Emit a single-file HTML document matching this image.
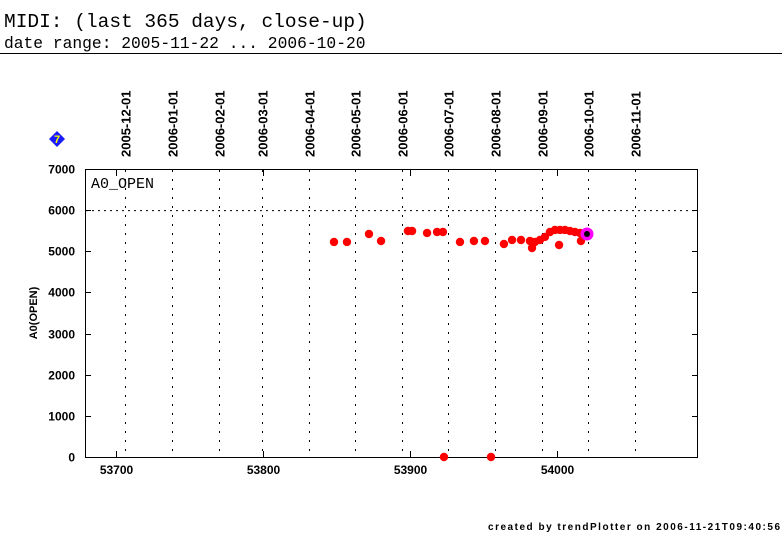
<!DOCTYPE html>
<html><head><meta charset="utf-8"><style>
body{margin:0;width:782px;height:542px;background:#fff;overflow:hidden}
svg{display:block}
</style></head><body>
<svg width="782" height="542" id="c">
<text x="4" y="27" font-family="Liberation Mono, monospace" font-size="19.5">MIDI: (last 365 days, close-up)</text>
<text x="4" y="48" font-family="Liberation Mono, monospace" font-size="16.3">date range: 2005-11-22 ... 2006-10-20</text>
<line x1="0" y1="53.5" x2="782" y2="53.5" stroke="#000"/>
<g><polygon points="57,131 65,139 57,147 49,139" fill="#1a1aff"/><text x="57" y="143" text-anchor="middle" font-family="Liberation Sans, sans-serif" font-weight="bold" font-size="11" fill="#ff0">7</text></g>
<rect x="85.5" y="169.5" width="612" height="288" fill="none" stroke="#000"/>
<text x="91" y="188" font-family="Liberation Mono, monospace" font-size="15">A0_OPEN</text>
<text transform="translate(37,313) rotate(-90)" text-anchor="middle" font-family="Liberation Sans, sans-serif" font-weight="bold" font-size="11">A0(OPEN)</text>
<text x="488" y="530" textLength="292" lengthAdjust="spacing" font-family="Liberation Sans, sans-serif" font-weight="bold" font-size="10">created by trendPlotter on 2006-11-21T09:40:56</text>
<g id="grid"></g><g id="axes"></g><g id="pts"></g>
</svg>
<script>
const monthLabels=["2005-12-01","2006-01-01","2006-02-01","2006-03-01","2006-04-01","2006-05-01","2006-06-01","2006-07-01","2006-08-01","2006-09-01","2006-10-01","2006-11-01"];
const monthMJD=[53705,53736,53767,53795,53826,53856,53887,53917,53948,53979,54009,54040];
const xTicks=[53700,53800,53900,54000];
const yTicks=[0,1000,2000,3000,4000,5000,6000,7000];
const ptMJD=[53848.3,53857.1,53872.1,53880.3,53898.6,53901.4,53911.6,53918.4,53922.4,53934,53943.5,53951,53963.9,53969.4,53975.5,53981.6,53985,53983,53988.4,53991.8,53995.2,53998.6,54002,54005.4,54008.8,54012.2,54015.6,54001.4,54016.3,53923.1,53955.1];
const ptVal=[5226,5226,5420,5250,5493,5493,5445,5469,5469,5226,5250,5250,5177,5274,5274,5250,5226,5080,5274,5348,5469,5518,5518,5518,5493,5469,5445,5153,5250,0,0];
const lastMJD=[54020.4];
const lastVal=[5420];
const X=v=>116+(v-53700)*1.47;
const XM=v=>125+(v-53705)*1.522;
const Y=v=>457-v*0.041143;
const NS="http://www.w3.org/2000/svg";
function mk(t,a,p){const e=document.createElementNS(NS,t);for(const k in a)e.setAttribute(k,a[k]);p.appendChild(e);return e;}
const grid=document.getElementById('grid'),axes=document.getElementById('axes'),pts=document.getElementById('pts');
monthMJD.forEach((m,i)=>{const x=Math.round(XM(m))+0.5;
 const l=mk('line',{x1:x,y1:170,x2:x,y2:457,stroke:'#000','stroke-dasharray':'2,7'},grid);
 
 
 const t=mk('text',{transform:`translate(${x+5},${157}) rotate(-90)`,'font-family':'Liberation Sans, sans-serif','font-weight':'bold','font-size':'13'},axes);
 t.textContent=monthLabels[i];
 
 });
const h=mk('line',{x1:86,y1:Y(6000)+0.5,x2:697,y2:Y(6000)+0.5,stroke:'#000','stroke-dasharray':'2,4'},grid);


yTicks.forEach(v=>{const y=Math.round(Y(v))+0.5;
 mk('line',{x1:86,y1:y,x2:91,y2:y,stroke:'#000'},axes);
 mk('line',{x1:692,y1:y,x2:697,y2:y,stroke:'#000'},axes);
 const t=mk('text',{x:75,y:y+4,'text-anchor':'end','font-family':'Liberation Sans, sans-serif','font-weight':'bold','font-size':'12'},axes);
 t.textContent=v;
 
 });
xTicks.forEach(v=>{const x=Math.round(X(v))+0.5;
 mk('line',{x1:x,y1:170,x2:x,y2:176,stroke:'#000'},axes);
 mk('line',{x1:x,y1:451,x2:x,y2:457,stroke:'#000'},axes);
 const t=mk('text',{x:x,y:474,'text-anchor':'middle','font-family':'Liberation Sans, sans-serif','font-weight':'bold','font-size':'12'},axes);
 t.textContent=v;
 
 });
ptMJD.forEach((m,i)=>{const c=mk('circle',{cx:X(m),cy:Y(ptVal[i]),r:4.2,fill:'#f00'},pts);
 
 });
lastMJD.forEach((m,i)=>{const c=mk('circle',{cx:X(m),cy:Y(lastVal[i]),r:6.5,fill:'#f0f'},pts);
 
 
 mk('circle',{cx:X(m),cy:Y(lastVal[i]),r:3,fill:'#000'},pts);});
</script>
</body></html>
